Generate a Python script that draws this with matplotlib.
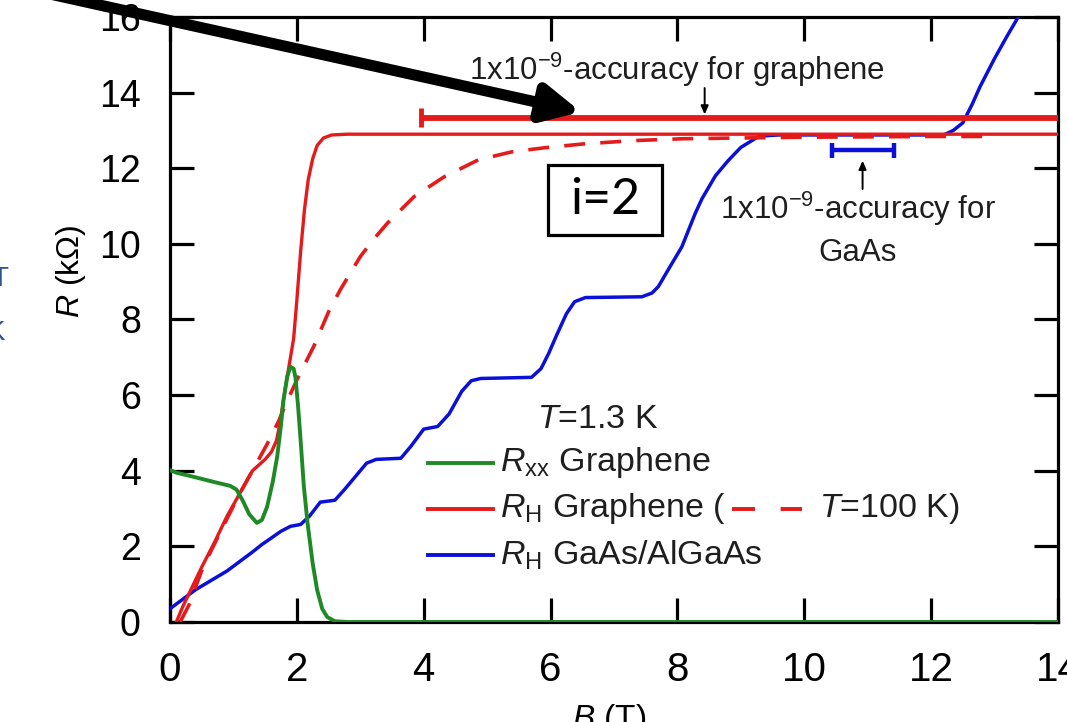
import matplotlib
matplotlib.use("Agg")
import matplotlib.pyplot as plt
from matplotlib.patches import Rectangle

plt.rcParams['font.family'] = ['Liberation Sans', 'DejaVu Sans']
plt.rcParams['mathtext.fontset'] = 'custom'
plt.rcParams['mathtext.rm'] = 'Liberation Sans'
plt.rcParams['mathtext.it'] = 'Liberation Sans:italic'

# R_H graphene, T = 1.3 K
b_gr = [0.1, 0.2, 0.3, 0.5, 0.7, 0.9, 1.05, 1.2, 1.3, 1.4, 1.5, 1.6, 1.68, 1.74,
        1.8, 1.88, 1.95, 2.0, 2.06, 2.12, 2.18, 2.25, 2.32, 2.42, 2.55, 2.8, 14.0]
r_gr = [0.0, 0.4, 0.75, 1.45, 2.1, 2.8, 3.25, 3.7, 4.0, 4.15, 4.3, 4.5, 4.8, 5.3,
        6.0, 6.8, 7.5, 8.5, 9.8, 10.9, 11.7, 12.25, 12.6, 12.8, 12.88, 12.9, 12.9]

# R_H graphene, T = 100 K
b_gr100 = [0.16, 0.3, 0.52, 0.8, 1.1, 1.35, 1.53, 1.71, 1.85, 2.0, 2.27, 2.5, 2.69,
           3.0, 3.2, 3.43, 3.85, 4.32, 4.86, 5.38, 5.9, 6.5, 7.3, 8.1, 9.0, 10.0,
           11.0, 12.0, 12.95]
r_gr100 = [0.0, 0.45, 1.45, 2.4, 3.4, 4.15, 4.7, 5.3, 5.85, 6.4, 7.3, 8.2, 8.8,
           9.66, 10.1, 10.55, 11.25, 11.77, 12.22, 12.43, 12.54, 12.64, 12.73, 12.78,
           12.8, 12.82, 12.83, 12.84, 12.84]

# R_xx graphene
b_xx = [0.0, 0.1, 0.37, 0.7, 0.95, 1.05, 1.15, 1.25, 1.37, 1.45, 1.53, 1.62, 1.69,
        1.75, 1.79, 1.85, 1.9, 1.95, 1.98, 2.02, 2.06, 2.11, 2.17, 2.25, 2.32, 2.4,
        2.48, 2.6, 2.8, 14.0]
r_xx = [4.02, 3.95, 3.84, 3.7, 3.6, 3.5, 3.2, 2.85, 2.62, 2.7, 3.04, 3.7, 4.37,
        5.2, 5.87, 6.5, 6.75, 6.7, 6.45, 5.7, 4.8, 3.6, 2.6, 1.55, 0.85, 0.35,
        0.13, 0.02, 0.0, 0.0]

# R_H GaAs/AlGaAs
b_gaas = [0.0, 0.2, 0.4, 0.6, 0.9, 1.1, 1.3, 1.45, 1.58, 1.75, 1.9, 2.06, 2.2, 2.37,
          2.6, 2.75, 2.95, 3.1, 3.25, 3.64, 3.8, 4.0, 4.22, 4.4, 4.6, 4.75, 4.9,
          5.7, 5.85, 5.97, 6.1, 6.25, 6.38, 6.55, 7.44, 7.6, 7.7, 7.85, 8.07, 8.28,
          8.39, 8.6, 8.8, 9.0, 9.29, 9.6, 12.2, 12.35, 12.5, 12.65, 12.77, 13.0,
          13.2, 13.34, 13.5]
r_gaas = [0.35, 0.6, 0.85, 1.05, 1.35, 1.6, 1.85, 2.05, 2.2, 2.4, 2.53, 2.58, 2.8,
          3.17, 3.22, 3.5, 3.9, 4.2, 4.3, 4.33, 4.65, 5.1, 5.17, 5.5, 6.1, 6.38,
          6.44, 6.47, 6.7, 7.1, 7.6, 8.15, 8.47, 8.58, 8.6, 8.7, 8.87, 9.3, 9.92,
          10.8, 11.2, 11.8, 12.2, 12.55, 12.85, 12.88, 12.88, 13.0, 13.2, 13.7,
          14.15, 14.9, 15.5, 15.9, 16.4]

# accuracy bars
gr_bar_b = [3.96, 14.0]
gr_bar_r = 13.33
gaas_bar_b = [10.43, 11.41]
gaas_bar_r = 12.47

x_ticks = [0, 2, 4, 6, 8, 10, 12, 14]
y_ticks = [0, 2, 4, 6, 8, 10, 12, 14, 16]

RED = '#e51a1a'
BLUE = '#0a10d8'
GREEN = '#1f8a25'

fig = plt.figure(figsize=(10.67, 7.22), dpi=100)
ax = fig.add_axes([0.1593, 0.1385, 0.8322, 0.838])

ax.plot(b_gaas, r_gaas, color=BLUE, lw=2.5, zorder=3)
ax.plot(b_gr100, r_gr100, color=RED, lw=2.6, dashes=(5.8, 4.2), zorder=4)
ax.plot(b_gr, r_gr, color=RED, lw=2.4, zorder=4)
ax.plot(b_xx, r_xx, color=GREEN, lw=2.8, zorder=5)

# accuracy bars with end caps
ax.hlines(gr_bar_r, gr_bar_b[0], gr_bar_b[1], color=RED, lw=4.2, zorder=4)
ax.vlines(gr_bar_b[0], gr_bar_r - 0.25, gr_bar_r + 0.25, color=RED, lw=3.5, zorder=4)
ax.hlines(gaas_bar_r, gaas_bar_b[0], gaas_bar_b[1], color=BLUE, lw=3.2, zorder=4)
ax.vlines(gaas_bar_b, gaas_bar_r - 0.2, gaas_bar_r + 0.2, color=BLUE, lw=3.2, zorder=4)

ax.set_xlim(0, 14)
ax.set_ylim(0, 16)
ax.set_xticks(x_ticks)
ax.set_yticks(y_ticks)
ax.tick_params(direction='in', length=17, width=2.3, top=True, right=True,
               labelsize=27, pad=21, color='black')
ax.tick_params(axis='x', labelsize=29)
for s in ax.spines.values():
    s.set_linewidth(2.3)

ax.set_xlabel('$B$ (T)', fontsize=24)
ax.xaxis.set_label_coords(0.494, -0.132)
ax.set_ylabel('$R$ (k\u03a9)', fontsize=23)
ax.yaxis.set_label_coords(-0.092, 0.58)

# accuracy annotations
txt = dict(fontsize=22.5, color='#1e1e1e')
ax.text(8.0, 14.6, '1x10$^{-9}$-accuracy for graphene', ha='center', va='center', **txt)
ax.annotate('', xy=(8.43, 13.42), xytext=(8.43, 14.12),
            arrowprops=dict(arrowstyle='-|>,head_length=0.5,head_width=0.22',
                            color='black', lw=1.4, shrinkA=0, shrinkB=0))
ax.text(10.84, 10.4, '1x10$^{-9}$-accuracy for\nGaAs', ha='center', va='center',
        linespacing=1.45, **txt)
ax.annotate('', xy=(10.92, 12.2), xytext=(10.92, 11.45),
            arrowprops=dict(arrowstyle='-|>,head_length=0.5,head_width=0.22',
                            color='black', lw=1.4, shrinkA=0, shrinkB=0))

# legend, drawn by hand
tr = ax.transAxes
leg = dict(fontsize=24.5, color='#1e1e1e')
ax.text(0.413, 0.334, '$T$=1.3 K', transform=tr, ha='left', va='center', **leg)
legend_rows = [(0.263, GREEN, '$R_{\\mathrm{xx}}$ Graphene'),
               (0.187, RED, '$R_{\\mathrm{H}}$ Graphene ('),
               (0.111, BLUE, '$R_{\\mathrm{H}}$ GaAs/AlGaAs')]
for yy, col, lab in legend_rows:
    ax.plot([0.2905, 0.364], [yy, yy], color=col, lw=2.8, transform=tr)
    ax.text(0.372, yy, lab, transform=tr, ha='left', va='center', **leg)
ax.plot([0.633, 0.712], [0.187, 0.187], color=RED, lw=2.8, dashes=(5.9, 6.6),
        transform=tr)
ax.text(0.731, 0.187, '$T$=100 K)', transform=tr, ha='left', va='center', **leg)

# i=2 box
ax.add_patch(Rectangle((0.4257, 0.64), 0.128, 0.115, transform=tr, facecolor='white',
                       edgecolor='black', lw=2.3, zorder=6))
ax.text(0.49, 0.697, 'i=2', transform=tr, ha='center', va='center', fontsize=36,
        family=['Lato', 'DejaVu Sans'], zorder=7)

# big pointer arrow
ax.annotate('', xy=(581, 610), xycoords='figure pixels', xytext=(-40, 748),
            textcoords='figure pixels', annotation_clip=False, zorder=10,
            arrowprops=dict(arrowstyle='-|>,head_length=1.0,head_width=0.5',
                            color='black', lw=8, mutation_scale=22,
                            shrinkA=0, shrinkB=0))

# clipped text fragments at the left edge
fig.text(8 / 1067, 1 - 266 / 722, 'T', ha='right', va='top', fontsize=20, color='#2f5597')
fig.text(5 / 1067, 1 - 320 / 722, 'K', ha='right', va='top', fontsize=20, color='#2f5597')

fig.savefig('out.png', dpi=100)
